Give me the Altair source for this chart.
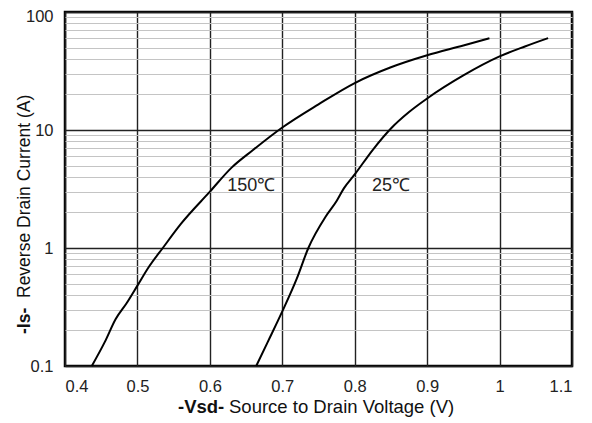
import altair as alt
import pandas as pd

# 150 °C curve
v150 = [0.437, 0.455, 0.47, 0.485, 0.5, 0.515, 0.535, 0.56, 0.6, 0.63, 0.66, 0.7, 0.75, 0.8, 0.85, 0.9, 0.95, 0.986]
i150 = [0.1, 0.16, 0.25, 0.34, 0.48, 0.68, 1.0, 1.6, 3.0, 4.8, 6.8, 10.5, 16.5, 25, 34, 43, 52, 60]
# 25 °C curve
v25 = [0.664, 0.68, 0.7, 0.72, 0.736, 0.76, 0.775, 0.785, 0.8, 0.825, 0.85, 0.875, 0.9, 0.95, 1.0, 1.035, 1.067]
i25 = [0.1, 0.16, 0.29, 0.55, 1.0, 1.85, 2.5, 3.2, 4.2, 6.8, 10.3, 14.2, 18.5, 29, 42, 51, 60]

labels = ["150℃", "25℃"]
label_v = [0.657, 0.85]
label_i = [3.35, 3.35]

x_ticks = [round(0.4 + 0.05 * k, 2) for k in range(15)]
y_ticks = [m * 10.0 ** e for e in (-1, 0, 1) for m in range(1, 10)] + [100.0]
y_ticks = [round(v, 6) for v in y_ticks]

df = pd.concat([
    pd.DataFrame({"v": v150, "i": i150, "curve": "150"}),
    pd.DataFrame({"v": v25, "i": i25, "curve": "25"}),
])
lab = pd.DataFrame({"v": label_v, "i": label_i, "t": labels})

FONT = "Liberation Sans"

x_major = "abs(datum.value*10 - round(datum.value*10)) < 1e-6"
y_major = "abs(log(datum.value)/LN10 - round(log(datum.value)/LN10)) < 1e-6"

xs = alt.Scale(domain=[0.4, 1.1], nice=False, zero=False)
ys = alt.Scale(type="log", domain=[0.1, 100], nice=False)

x_axis = alt.Axis(
    values=x_ticks, format="~g", title=None, domain=False, ticks=False,
    labelExpr=f"({x_major}) ? datum.label : ''",
    labelFont=FONT, labelFontSize=16.5, labelColor="#222", labelPadding=12,
    grid=True,
    gridColor={"condition": {"test": x_major, "value": "#222"}, "value": "#c4c4c4"},
    gridWidth={"condition": {"test": x_major, "value": 1.4}, "value": 1},
)
y_axis = alt.Axis(
    values=y_ticks, format="~g", title=None, domain=False, ticks=False,
    labelExpr=f"({y_major}) ? datum.label : ''",
    labelFont=FONT, labelFontSize=16.5, labelColor="#222", labelPadding=12,
    labelOffset={"condition": {"test": "datum.value >= 99", "value": 4}, "value": 0},
    grid=True,
    gridColor={"condition": {"test": y_major, "value": "#222"}, "value": "#c4c4c4"},
    gridWidth={"condition": {"test": y_major, "value": 1.4}, "value": 1},
)

base = alt.Chart(df)
lines = base.mark_line(color="black", strokeWidth=2, interpolate="monotone").encode(
    x=alt.X("v:Q", scale=xs, axis=x_axis),
    y=alt.Y("i:Q", scale=ys, axis=y_axis),
    detail="curve:N",
)
texts = alt.Chart(lab).mark_text(font=FONT, fontSize=18, color="#222").encode(
    x=alt.X("v:Q", scale=xs),
    y=alt.Y("i:Q", scale=ys),
    text="t:N",
)

W, H = 507, 354
xt_bold = alt.Chart(pd.DataFrame({"t": ["-Vsd-"]})).mark_text(
    font=FONT, fontSize=18.5, fontWeight="bold", align="left", baseline="alphabetic", color="#111"
).encode(x=alt.value(113), y=alt.value(H + 47), text="t:N")
xt_norm = alt.Chart(pd.DataFrame({"t": ["Source to Drain Voltage (V)"]})).mark_text(
    font=FONT, fontSize=18.5, align="left", baseline="alphabetic", color="#111"
).encode(x=alt.value(164), y=alt.value(H + 47), text="t:N")

yt_bold = alt.Chart(pd.DataFrame({"t": ["-Is-"]})).mark_text(
    font=FONT, fontSize=17.5, fontWeight="bold", align="left", baseline="middle", angle=270, color="#111"
).encode(x=alt.value(-40), y=alt.value(322), text="t:N")
yt_norm = alt.Chart(pd.DataFrame({"t": ["Reverse  Drain Current (A)"]})).mark_text(
    font=FONT, fontSize=17.5, align="left", baseline="middle", angle=270, color="#111"
).encode(x=alt.value(-40), y=alt.value(286), text="t:N")

chart = alt.layer(lines, texts, xt_bold, xt_norm, yt_bold, yt_norm).properties(
    width=W, height=H,
    autosize=alt.AutoSizeParams(type="none"),
    padding={"left": 57, "top": 4, "right": 12, "bottom": 55},
).configure_view(stroke="black", strokeWidth=2.5)

chart.save("out.html", embed_options={"renderer": "svg", "actions": False})
